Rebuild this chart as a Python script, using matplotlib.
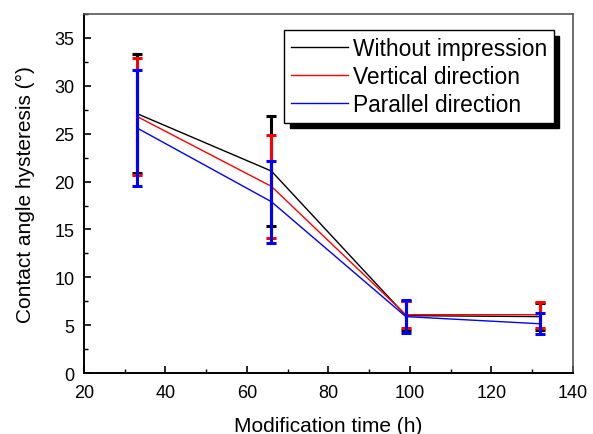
import matplotlib
matplotlib.use('Agg')
import matplotlib.pyplot as plt
from matplotlib.ticker import MultipleLocator

plt.rcParams['font.family'] = ['Liberation Sans', 'DejaVu Sans']

# Datos
tiempo = [33, 66, 99, 132]
sin_impresion = [27.1, 21.1, 6.0, 5.9]
err_sin_impresion = [6.25, 5.7, 1.5, 1.4]
vertical = [26.8, 19.5, 6.1, 6.1]
err_vertical = [6.1, 5.4, 1.4, 1.35]
paralelo = [25.6, 17.9, 5.9, 5.15]
err_paralelo = [6.1, 4.3, 1.7, 1.1]

series = [
    ('Without impression', sin_impresion, err_sin_impresion, 'black'),
    ('Vertical direction', vertical, err_vertical, 'red'),
    ('Parallel direction', paralelo, err_paralelo, 'blue'),
]

fig = plt.figure(figsize=(5.93, 4.35), dpi=100)
ax = fig.add_axes([0.1417, 0.140, 0.8243, 0.8255])

for nombre, valores, errores, color in series:
    ax.plot(tiempo, valores, color=color, lw=1.0, label=nombre)
    ax.errorbar(tiempo, valores, yerr=errores, fmt='none', ecolor=color,
                elinewidth=2.2, capsize=3.8, capthick=2.2)

ax.set_xlim(20, 140)
ax.set_ylim(0, 37.5)
ax.xaxis.set_major_locator(MultipleLocator(20))
ax.xaxis.set_minor_locator(MultipleLocator(10))
ax.yaxis.set_major_locator(MultipleLocator(5))
ax.yaxis.set_minor_locator(MultipleLocator(2.5))
ax.tick_params(which='both', direction='in', top=False, right=False)
ax.tick_params(which='major', length=5, width=1.2, labelsize=13)
ax.tick_params(axis='x', which='major', pad=8)
ax.tick_params(axis='y', which='major', pad=7)
ax.tick_params(which='minor', length=3, width=1.0)
for lado in ['left', 'bottom']:
    ax.spines[lado].set_linewidth(1.4)
for lado in ['top', 'right']:
    ax.spines[lado].set_color('#555555')
    ax.spines[lado].set_linewidth(1.2)

ax.set_xlabel('Modification time (h)', fontsize=15, labelpad=11)
ax.set_ylabel('Contact angle hysteresis (°)', fontsize=15, labelpad=14)

leg = ax.legend(loc='upper right', bbox_to_anchor=(0.961, 0.955), fontsize=16.4,
                fancybox=False, framealpha=1, edgecolor='black',
                shadow={'color': 'black', 'alpha': 1, 'ox': 4, 'oy': -4},
                handlelength=2.5, handletextpad=0.2, labelspacing=0.22,
                borderpad=0.3, borderaxespad=0)
leg.get_frame().set_linewidth(1.0)

fig.savefig('out.png', dpi=100)
